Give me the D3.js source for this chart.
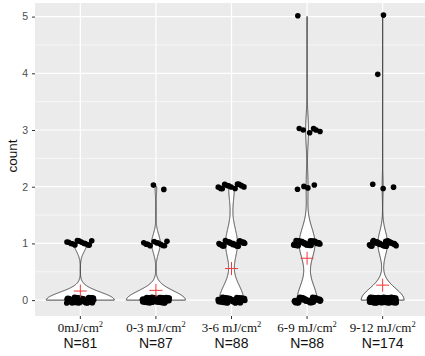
<!DOCTYPE html>
<html>
<head>
<meta charset="utf-8">
<script src="https://cdn.jsdelivr.net/npm/d3@7"></script>
<style>
  body { margin: 0; background: #fff; }
  svg { display: block; }
</style>
</head>
<body>
<svg id="chart" width="425" height="356"></svg>
<script>
// categories and labels
const doseLabels = ['0mJ/cm', '0-3 mJ/cm', '3-6 mJ/cm', '6-9 mJ/cm', '9-12 mJ/cm'];
const nLabels = ['N=81', 'N=87', 'N=88', 'N=88', 'N=174'];

// observed count values and how many subjects had each value, per group
const countValues = [0, 1, 2, 3, 4, 5];
const freq0mJ  = [68, 13, 0, 0, 0, 0];
const freq0to3 = [74, 11, 2, 0, 0, 0];
const freq3to6 = [51, 25, 12, 0, 0, 0];
const freq6to9 = [43, 34, 4, 6, 0, 1];
const freq9to12 = [138, 31, 3, 0, 1, 1];
const groupFreqs = [freq0mJ, freq0to3, freq3to6, freq6to9, freq9to12];

const yTicks = [0, 1, 2, 3, 4, 5];
const yMinor = [0.5, 1.5, 2.5, 3.5, 4.5];

const W = 425, H = 356;
const panel = { left: 35, right: 428, top: 3, bottom: 316 };

const svg = d3.select('#chart');

// scales
const xScale = d3.scalePoint()
    .domain(doseLabels)
    .range([panel.left, panel.right])
    .padding(0.6);
const step = xScale.step();

const yScale = d3.scaleLinear()
    .domain([-0.28, 5.24])
    .range([panel.bottom, panel.top]);

// panel background + grid
svg.append('rect')
    .attr('x', panel.left).attr('y', panel.top)
    .attr('width', panel.right - panel.left)
    .attr('height', panel.bottom - panel.top)
    .style('fill', '#ebebeb');

svg.append('g').selectAll('line')
    .data(yMinor).enter().append('line')
    .attr('x1', panel.left).attr('x2', panel.right)
    .attr('y1', d => yScale(d)).attr('y2', d => yScale(d))
    .style('stroke', '#fff').style('stroke-width', 0.6);

svg.append('g').selectAll('line')
    .data(yTicks).enter().append('line')
    .attr('x1', panel.left).attr('x2', panel.right)
    .attr('y1', d => yScale(d)).attr('y2', d => yScale(d))
    .style('stroke', '#fff').style('stroke-width', 1.2);

svg.append('g').selectAll('line')
    .data(doseLabels).enter().append('line')
    .attr('x1', d => xScale(d)).attr('x2', d => xScale(d))
    .attr('y1', panel.top).attr('y2', panel.bottom)
    .style('stroke', '#fff').style('stroke-width', 1.2);

// expand frequency tables into raw values
const groups = doseLabels.map((lab, g) => {
    let vals = [];
    countValues.forEach((v, i) => {
        for (let j = 0; j < groupFreqs[g][i]; j++) vals.push(v);
    });
    return { label: lab, values: vals };
});

// bandwidth like R's bw.nrd0
function nrd0(arr) {
    let hi = d3.deviation(arr);
    let iqr = d3.quantile(arr, 0.75) - d3.quantile(arr, 0.25);
    let lo = Math.min(hi, iqr / 1.34);
    if (!lo) lo = hi || Math.abs(arr[0]) || 1;
    return 0.9 * lo * Math.pow(arr.length, -0.2);
}

// gaussian kde on a trimmed grid
groups.forEach(grp => {
    let vals = grp.values;
    let n = vals.length;
    let bw = nrd0(vals);
    let lo = d3.min(vals), hi = d3.max(vals);
    let pts = [];
    for (let i = 0; i < 512; i++) {
        let y = lo + (hi - lo) * i / 511;
        let dens = 0;
        countValues.forEach((v, k) => {
            let f = vals.filter(x => x === v).length;
            if (f) {
                let z = (y - v) / bw;
                dens += f * Math.exp(-0.5 * z * z) / Math.sqrt(2 * Math.PI);
            }
        });
        pts.push({ y: y, d: dens / (n * bw) });
    }
    grp.density = pts;
    grp.mean = d3.mean(vals);
});

const maxDens = d3.max(groups, grp => d3.max(grp.density, p => p.d));
const halfWidth = d3.scaleLinear().domain([0, maxDens]).range([0, 0.45 * step]);

// violins
const area = d3.area()
    .y(p => yScale(p.y));

svg.append('g').selectAll('path')
    .data(groups).enter().append('path')
    .attr('d', grp => {
        let cx = xScale(grp.label);
        return area
            .x0(p => cx - halfWidth(p.d))
            .x1(p => cx + halfWidth(p.d))(grp.density);
    })
    .style('fill', '#fff')
    .style('stroke', '#333')
    .style('stroke-width', 0.9);

// jittered points (deterministic spread)
let points = [];
groups.forEach((grp, g) => {
    countValues.forEach((v, i) => {
        for (let j = 0; j < groupFreqs[g][i]; j++) {
            let fx = ((j * 0.618034 + g * 0.37 + i * 0.21) % 1) - 0.5;
            let fy = ((j * 0.754878 + g * 0.13 + i * 0.45) % 1) - 0.5;
            points.push({ label: grp.label, v: v, dx: fx * 2 * 0.18, dy: fy * 2 * 0.05 });
        }
    });
});

svg.append('g').selectAll('circle')
    .data(points).enter().append('circle')
    .attr('cx', p => xScale(p.label) + p.dx * step)
    .attr('cy', p => yScale(p.v + p.dy))
    .attr('r', 2.8)
    .style('fill', '#000');

// mean crosses
const cross = svg.append('g').selectAll('g')
    .data(groups).enter().append('g')
    .attr('transform', grp => `translate(${xScale(grp.label)}, ${yScale(grp.mean)})`);
cross.append('line').attr('x1', -6.5).attr('x2', 6.5).attr('y1', 0).attr('y2', 0);
cross.append('line').attr('x1', 0).attr('x2', 0).attr('y1', -6.5).attr('y2', 6.5);
cross.selectAll('line').style('stroke', '#f03a3a').style('stroke-width', 1);

// y axis
const yAxis = svg.append('g')
    .attr('transform', `translate(${panel.left}, 0)`)
    .call(d3.axisLeft(yScale).tickValues(yTicks).tickSize(3).tickPadding(4).tickFormat(d3.format('d')));
yAxis.select('.domain').remove();
yAxis.selectAll('line').style('stroke', '#333');
yAxis.selectAll('text')
    .style('font-family', 'Liberation Sans, Arial, sans-serif')
    .style('font-size', '10.5px')
    .style('fill', '#4d4d4d');

// x ticks
svg.append('g').selectAll('line')
    .data(doseLabels).enter().append('line')
    .attr('x1', d => xScale(d)).attr('x2', d => xScale(d))
    .attr('y1', panel.bottom).attr('y2', panel.bottom + 3)
    .style('stroke', '#333');

// x labels: dose (serif, superscript 2) + N (sans)
const doseText = svg.append('g').selectAll('text')
    .data(doseLabels).enter().append('text')
    .attr('x', d => xScale(d))
    .attr('y', 332)
    .attr('text-anchor', 'middle')
    .style('font-family', 'Liberation Serif, Times New Roman, serif')
    .style('font-size', '13px')
    .style('fill', '#111');
doseText.append('tspan').text(d => d);
doseText.append('tspan')
    .attr('dy', -5)
    .style('font-size', '8.5px')
    .text('2');

svg.append('g').selectAll('text')
    .data(nLabels).enter().append('text')
    .attr('x', (d, i) => xScale(doseLabels[i]))
    .attr('y', 348)
    .attr('text-anchor', 'middle')
    .style('font-family', 'Liberation Sans, Arial, sans-serif')
    .style('font-size', '14px')
    .style('fill', '#111')
    .text(d => d);

// y title
svg.append('text')
    .attr('transform', 'translate(17, 156) rotate(-90)')
    .attr('text-anchor', 'middle')
    .style('font-family', 'Liberation Sans, Arial, sans-serif')
    .style('font-size', '13.5px')
    .style('fill', '#111')
    .text('count');
</script>
</body>
</html>
